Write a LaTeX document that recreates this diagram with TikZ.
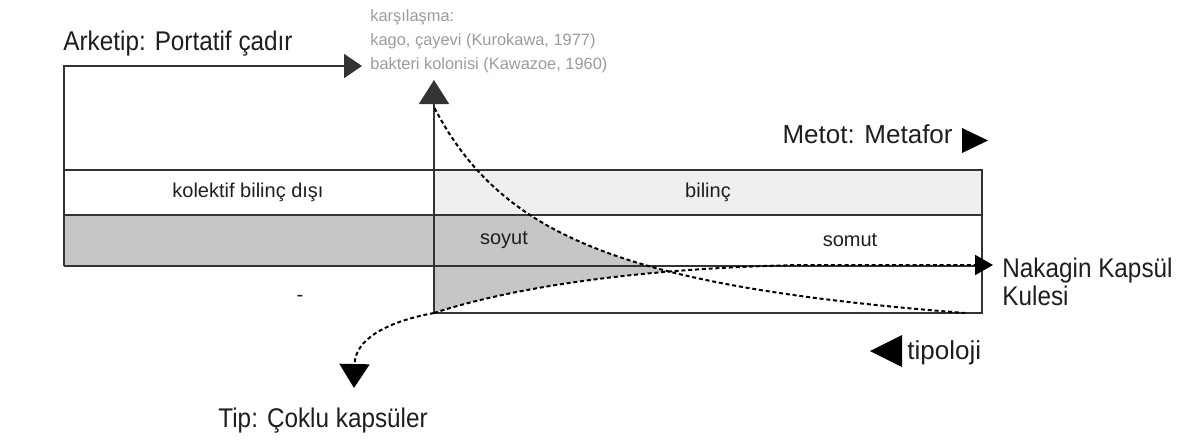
\documentclass[tikz,border=0pt]{standalone}
\usepackage{fontspec}
\setmainfont{Liberation Sans}
\newfontfamily\condfont[FakeStretch=0.9]{Liberation Sans}
\usepackage{tikz}
\usetikzlibrary{arrows.meta}
\definecolor{lined}{HTML}{333333}
\definecolor{bandg}{HTML}{C6C6C6}
\definecolor{lightg}{HTML}{EFEFEF}
\definecolor{srcg}{HTML}{9B9B9B}
\definecolor{inkd}{HTML}{1E1E1E}
\tikzset{
  % solid frame lines and dotted flows
  rule/.style    = {draw=lined, line width=0.9pt},
  flow/.style    = {draw=black, line width=1pt, dash pattern=on 2pt off 1.4pt},
  head/.style    = {font=\condfont\fontsize{13.5}{14}\selectfont, text=inkd, inner sep=0pt, align=left},
  side/.style    = {font=\fontsize{13}{15}\selectfont, text=inkd, inner sep=0pt},
  lbl/.style     = {font=\fontsize{10}{12}\selectfont, text=inkd, inner sep=0pt},
  src/.style     = {font=\fontsize{8.2}{12}\selectfont, text=srcg, inner sep=0pt, align=left},
  bigtip/.style  = {-{Triangle[length=12pt,width=15pt]}},
  smalltip/.style= {-{Triangle[length=9pt,width=#1]}},
}
\newcommand{\hyp}[1]{364.6-342.75/((#1-300.9)/100)}
\begin{document}
\begin{tikzpicture}[x=0.5pt,y=-0.5pt]
\useasboundingbox (0,0) rectangle (1193,441);
% anchors of the flows
\coordinate (orig) at (434,313);
\coordinate (uptip) at (434,80);
\coordinate (downtip) at (354,388);
\coordinate (righttip) at (993,265);
\coordinate (corner) at (64,66);
\coordinate (toptip) at (362,66);
% fills
\fill[lightg] (434,170) rectangle (982,215);
\fill[bandg] (64,215) rectangle (434,266);
\begin{scope}
  \clip (orig) .. controls (520,285) and (650,268) .. (800,265) -- (800,215) -- (434,215) -- cycle;
  \fill[bandg] (434,215) -- plot[domain=530:800, samples=40] (\x,{\hyp{\x}}) -- (800,320) -- (434,320) -- cycle;
\end{scope}
% frame
\draw[rule] (64,170) -- (982,170) -- (982,313) -- (orig);
\draw[rule] (64,215) -- (982,215);
\draw[rule] (64,266) -- (982,266);
\draw[rule, smalltip=12pt] (64,266) -- (corner) -- (toptip);
\draw[rule, bigtip] (orig) -- (uptip);
% flows
\draw[flow] plot[domain=434.5:965, samples=80] (\x,{\hyp{\x}});
\draw[flow, smalltip=10pt] (orig) .. controls (520,285) and (650,268) .. (800,265) -- (righttip);
\draw[flow, bigtip] (orig) .. controls (385,322) and (355,340) .. (downtip);
% labels
\node[head, anchor=base west] (arketip) at (63,50) {Arketip: Portatif çadır};
\node[src, anchor=north west] (karsi) at (370,9)
  {karşılaşma:\\kago, çayevi (Kurokawa, 1977)\\bakteri kolonisi (Kawazoe, 1960)};
\node[side, anchor=base east] (metot) at (953,143) {Metot: Metafor};
\fill[black] (962,128) -- (988,140.5) -- (962,153) -- cycle;
\node[lbl] (kolektif) at (248,192) {kolektif bilinç dışı};
\node[lbl] (bilinc) at (708,192) {bilinç};
\node[lbl] (soyut) at (504,240) {soyut};
\node[lbl] (somut) at (850,240) {somut};
\node[lbl] (dash) at (300,298) {-};
\node[head, anchor=north west] (nakagin) at (1002,257.5) {Nakagin Kapsül\\Kulesi};
\fill[black] (902,335) -- (870,351) -- (902,367) -- cycle;
\node[side, anchor=base west] (tipoloji) at (907,359) {tipoloji};
\node[head, anchor=base west] (tip) at (218,427) {Tip: Çoklu kapsüler};
\end{tikzpicture}
\end{document}
